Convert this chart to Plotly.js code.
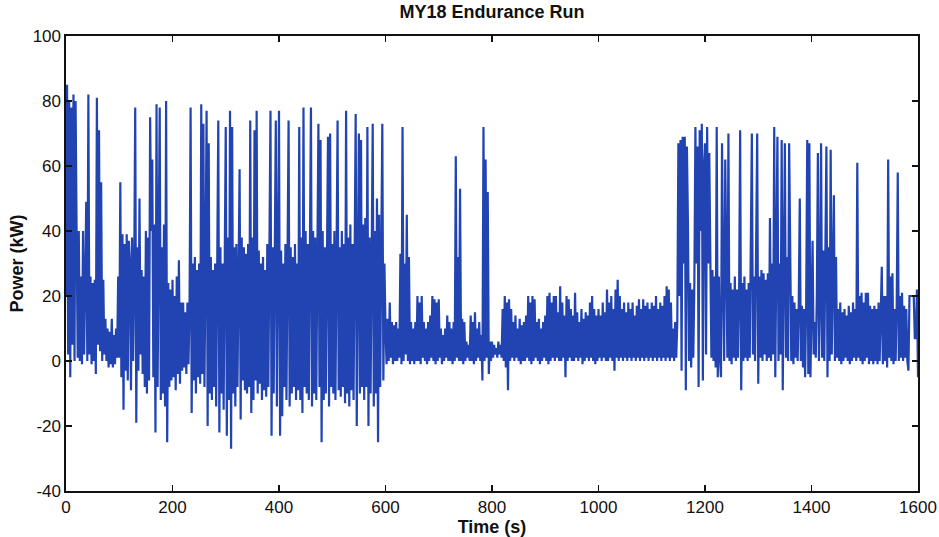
<!DOCTYPE html>
<html>
<head>
<meta charset="utf-8">
<script src="https://cdn.plot.ly/plotly-3.0.1.min.js"></script>
<style>html,body{margin:0;padding:0;background:#fff;}#chart{width:939px;height:537px;}</style>
</head>
<body>
<div id="chart"></div>
<script>
// Sample interval of the logged power signal (seconds)
const sampleInterval = 2;

// Power (kW), one array per 200 s of the run
const power_0_200 = [
  20, 85, 2, 80, -5, 78, 5, 82, 0, 80,
  38, 1, 40, 0, 26, -1, 40, 2, 25, 49,
  0, 82, 2, 26, -1, 24, 0, 25, -4, 81,
  5, 71, 3, 55, 0, 25, 2, 13, 0, 10,
  -2, 9, -1, 13, -2, 8, -1, 10, 1, 26,
  1, 55, -5, 39, -15, 36, -3, 39, -6, 37,
  30, -9, 38, 0, 25, 78, -19, 35, -3, 50,
  2, 28, -4, 26, -8, 40, -10, 38, -6, 75,
  40, 62, -5, 42, -22, 79, -8, 45, 78, -12,
  35, -10, 42, -14, 80, -25, 24, -8, 22, -6
];
const power_200_400 = [
  25, -5, 20, -9, 26, -4, 31, -7, 18, -3,
  18, -2, 15, -4, 18, -1, 16, 78, -16, 30,
  -6, 32, -10, 28, -5, 30, -7, 79, -4, 73,
  -8, 30, 77, -20, 67, -10, 32, -12, 28, -8,
  30, -14, 33, 74, -22, 35, -10, 30, -15, 36,
  72, -23, 38, -12, 77, -27, 72, -10, 35, -14,
  36, -8, 30, 59, -18, 38, -6, 35, -9, 33,
  -10, 36, -8, 74, -16, 38, -12, 71, -6, 77,
  -10, 34, -7, 30, -12, 32, -9, 28, -11, 36,
  -8, 40, 77, -23, 35, -10, 38, 74, -14, 36
];
const power_400_600 = [
  77, -23, 34, -17, 30, -8, 36, -12, 32, 74,
  -14, 35, -10, 32, -8, 36, -12, 30, -9, 72,
  -12, 38, -16, 78, -8, 40, -10, 36, -12, 42,
  78, -14, 40, -10, 38, -12, 36, 73, -8, 68,
  -25, 40, -12, 35, -10, 38, 69, -14, 70, -8,
  36, -10, 40, -12, 38, 74, -9, 35, -11, 40,
  -8, 36, -13, 77, -10, 38, -14, 42, -9, 36,
  -12, 40, 76, -20, 45, 70, -10, 68, -8, 42,
  -12, 44, -8, 72, -20, 38, -10, 48, 73, -14,
  40, -10, 50, -25, 45, -8, 40, 73, -6, 30
];
const power_600_800 = [
  10, -1, 13, 0, 18, 1, 12, -1, 11, 0,
  12, 0, 10, 1, 33, -1, 72, 0, 30, 2,
  45, 0, 32, -1, 12, 0, 10, -1, 12, 0,
  20, 0, 18, -1, 20, 1, 12, 0, 10, -1,
  12, 0, 14, 1, 20, 0, 19, -1, 18, 0,
  19, 1, 10, -1, 8, 0, 10, 1, 14, 0,
  12, 0, 10, -1, 12, 0, 63, 1, 32, 0,
  53, 0, 13, -1, 12, 0, 6, 1, 5, 0,
  14, 0, 12, -1, 15, 0, 10, 1, 12, 0,
  8, -6, 72, 0, 62, 1, 52, -4, 6, 0
];
const power_800_1000 = [
  6, 1, 5, 2, 4, 1, 6, 2, 5, 1,
  16, 0, 20, -2, 18, -9, 19, 0, 16, 1,
  12, 0, 14, 1, 10, 0, 13, -1, 11, 0,
  12, 0, 14, 1, 20, 0, 18, -1, 20, 0,
  19, 1, 12, 0, 13, -1, 10, 0, 12, 1,
  14, 0, 20, -1, 21, 0, 18, 1, 20, 0,
  20, 1, 15, 0, 23, 0, 18, 1, 14, -5,
  20, 0, 19, 1, 16, 0, 14, 0, 21, 1,
  15, 0, 12, 1, 16, -1, 13, 0, 15, 1,
  14, 0, 18, 1, 20, 0, 16, -1, 14, 0
];
const power_1000_1200 = [
  16, 1, 14, 0, 18, 1, 15, 0, 22, 0,
  18, 1, 20, 0, 16, -3, 22, 1, 25, 0,
  20, 1, 16, 0, 18, 1, 15, 0, 18, 1,
  16, 0, 18, 1, 14, 0, 17, 1, 19, 0,
  16, 1, 19, 0, 17, 1, 18, 0, 16, 1,
  18, 0, 17, 1, 20, 0, 16, 1, 18, 0,
  17, 1, 20, 0, 23, 1, 22, 0, 18, 1,
  10, 0, 12, 1, 12, 67, 20, 68, -3, 69,
  30, 69, -9, 66, 42, 0, 24, -2, 22, 1,
  24, 72, 30, 66, -8, 71, 40, 73, -6, 60
];
const power_1200_1400 = [
  67, 2, 72, 30, 64, 25, 1, 28, 0, 26,
  -2, 72, -5, 26, 1, -5, 67, 24, 0, 62,
  20, 1, 70, 0, 24, -1, 22, 1, 26, 0,
  22, 1, 20, 71, -9, 24, 0, 26, 1, 22,
  0, 24, 1, 27, 70, 2, 26, 0, 28, 70,
  -7, 26, 1, 28, 0, 27, 2, 25, 0, 27,
  1, 44, 0, 30, 2, 72, -5, 40, 69, 0,
  30, 2, 68, -9, 30, 67, 1, 32, 0, 67,
  35, 0, 20, -1, 18, 1, 16, 0, 17, 50,
  0, 17, -2, 16, -5, 18, 68, -4, 67, -5
];
const power_1400_1600 = [
  16, 37, 2, 12, 1, 20, 64, 0, 18, 67,
  1, 34, 0, 36, 66, -5, 35, 0, 65, 2,
  34, 51, 0, 32, 1, 16, 0, 18, -1, 15,
  0, 16, 1, 14, 0, 17, -1, 15, 0, 18,
  1, 16, 0, 61, 1, 20, 0, 21, -1, 18,
  0, 21, 1, 21, -1, 17, 0, 16, -1, 17,
  0, 16, -1, 18, 0, 15, 29, -1, 20, 0,
  20, -2, 62, 1, 26, 0, 27, -1, 16, 0,
  17, 58, 0, 20, 1, 21, 0, 17, 1, 16,
  0, -3, 20, 20, 20, 20, 20, 7, 7, 22, -5
];

const xTicks = [0, 200, 400, 600, 800, 1000, 1200, 1400, 1600];
const yTicks = [-40, -20, 0, 20, 40, 60, 80, 100];

const power = [].concat(power_0_200, power_200_400, power_400_600, power_600_800,
  power_800_1000, power_1000_1200, power_1200_1400, power_1400_1600);
const time = power.map((_, i) => i * sampleInterval);

const fontFam = 'Liberation Sans, Arial, Helvetica, sans-serif';

const trace = {
  x: time, y: power, type: 'scatter', mode: 'lines',
  line: {color: 'rgb(33,68,178)', width: 2.2},
  hoverinfo: 'skip'
};

const axisCommon = {
  showgrid: false, zeroline: false,
  showline: true, linecolor: '#111', linewidth: 1.6,
  mirror: 'ticks', ticks: 'inside', ticklen: 6, tickwidth: 1.6, tickcolor: '#111',
  tickfont: {family: fontFam, size: 17, color: '#111'},
  automargin: false
};

const layout = {
  width: 939, height: 537,
  margin: {l: 66, r: 21, t: 36, b: 46},
  paper_bgcolor: '#fff', plot_bgcolor: '#fff',
  showlegend: false,
  title: {text: 'MY18 Endurance Run', font: {family: fontFam, size: 18, weight: 'bold', color: '#111'},
    x: 0.524, xref: 'container', xanchor: 'center', y: 0.978, yref: 'container', yanchor: 'middle'},
  xaxis: Object.assign({}, axisCommon, {
    range: [0, 1600], tickvals: xTicks, ticktext: xTicks.map(String),
    title: {text: 'Time (s)', font: {family: fontFam, size: 18, weight: 'bold', color: '#111'}, standoff: 2}
  }),
  yaxis: Object.assign({}, axisCommon, {
    range: [-40, 100], tickvals: yTicks, ticktext: yTicks.map(String),
    title: {text: 'Power (kW)', font: {family: fontFam, size: 18, weight: 'bold', color: '#111'}, standoff: 4}
  })
};

Plotly.newPlot('chart', [trace], layout, {staticPlot: true, displayModeBar: false});
</script>
</body>
</html>
